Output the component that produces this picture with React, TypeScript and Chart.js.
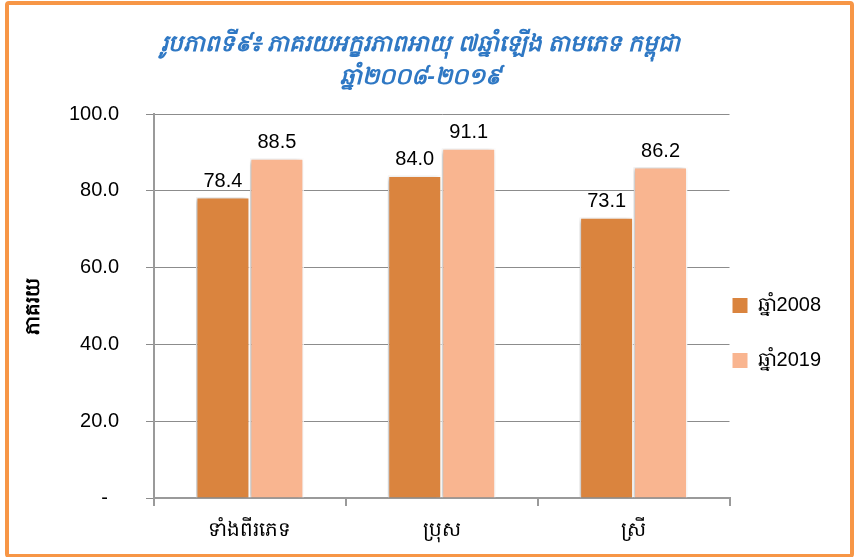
import React, { useEffect, useRef } from 'react';
import { Chart, registerables } from 'chart.js';

Chart.register(...registerables);

const categories = ['ទាំងពីរភេទ', 'ប្រុស', 'ស្រី'];
const seriesNames = ['ឆ្នាំ2008', 'ឆ្នាំ2019'];
const values2008 = [78.4, 84.0, 73.1];
const values2019 = [88.5, 91.1, 86.2];
const titleLines = ['រូបភាពទី៩៖ ភាគរយអក្ខរភាពអាយុ ៧ឆ្នាំឡើង តាមភេទ កម្ពុជា', 'ឆ្នាំ២០០៨-២០១៩'];
const yAxisTitle = 'ភាគរយ';
const yMin = 0;
const yMax = 100;
const yStep = 20;

const colors = ['#DA843E', '#F9B590'];
const FONT = '"Liberation Sans", Arial, "Noto Sans", sans-serif';

const barShadow = {
  id: 'barShadow',
  beforeDatasetsDraw(chart: any) {
    const c = chart.ctx;
    c.save();
    c.shadowColor = 'rgba(0,0,0,0.28)';
    c.shadowBlur = 5;
    c.shadowOffsetX = -2;
    c.shadowOffsetY = 1;
  },
  afterDatasetsDraw(chart: any) {
    chart.ctx.restore();
  },
};

const valueLabels = {
  id: 'valueLabels',
  afterDatasetsDraw(chart: any) {
    const ctx = chart.ctx;
    ctx.save();
    ctx.shadowColor = 'transparent';
    ctx.font = `20px ${FONT}`;
    ctx.fillStyle = '#000';
    ctx.textAlign = 'center';
    ctx.textBaseline = 'alphabetic';
    chart.data.datasets.forEach((ds: any, i: number) => {
      const meta = chart.getDatasetMeta(i);
      meta.data.forEach((el: any, j: number) => {
        ctx.fillText(Number(ds.data[j]).toFixed(1), el.x, el.y - 10);
      });
    });
    ctx.restore();
  },
};

export default function App() {
  const ref = useRef<HTMLCanvasElement>(null);

  useEffect(() => {
    const chart = new Chart(ref.current as HTMLCanvasElement, {
      type: 'bar',
      data: {
        labels: categories,
        datasets: [
          {
            label: seriesNames[0],
            data: values2008,
            backgroundColor: colors[0],
            borderColor: '#ffffff',
            borderWidth: 1.5,
            categoryPercentage: 0.5625,
            barPercentage: 1,
          },
          {
            label: seriesNames[1],
            data: values2019,
            backgroundColor: colors[1],
            borderColor: '#ffffff',
            borderWidth: 1.5,
            categoryPercentage: 0.5625,
            barPercentage: 1,
          },
        ],
      },
      plugins: [barShadow, valueLabels],
      options: {
        responsive: false,
        animation: false,
        devicePixelRatio: 1,
        layout: { padding: { top: 10, left: 10, right: 23, bottom: 3 } },
        plugins: {
          title: {
            display: true,
            text: titleLines,
            color: '#2F78C4',
            font: { family: FONT, size: 23, style: 'italic', lineHeight: 33 / 23 },
            padding: { top: 18.5, bottom: 19.5 },
          },
          legend: {
            position: 'right',
            fullSize: false,
            align: 'center',
            title: {
              display: true,
              text: '',
              padding: 0,
              font: { size: 10, lineHeight: 8.6 },
            },
            labels: {
              color: '#000',
              font: { family: FONT, size: 20, lineHeight: 52 / 20 },
              boxWidth: 15,
              boxHeight: 15,
              padding: 3,
              generateLabels: (ch: any) =>
                (Chart.defaults.plugins.legend.labels.generateLabels as any)(ch).map((l: any) => ({
                  ...l,
                  text: [l.text],
                  lineWidth: 0,
                })),
            },
          },
          tooltip: { enabled: false },
        },
        scales: {
          x: {
            grid: {
              display: true,
              drawOnChartArea: false,
              drawTicks: true,
              tickLength: 8,
              color: '#9a9a9a',
              lineWidth: 2,
              offset: true,
            },
            border: { display: true, color: '#9a9a9a', width: 2 },
            ticks: { color: '#000', font: { family: FONT, size: 20 }, padding: 12 },
          },
          y: {
            min: yMin,
            max: yMax,
            ticks: {
              stepSize: yStep,
              padding: 27,
              color: '#000',
              font: { family: FONT, size: 20 },
              callback: (v: any) => (Number(v) === 0 ? '-  ' : Number(v).toFixed(1)),
            },
            grid: { color: '#8c8c8c', lineWidth: 1, tickLength: 8 },
            border: { color: '#9a9a9a', width: 2 },
            title: {
              display: true,
              text: yAxisTitle,
              color: '#000',
              font: { family: FONT, size: 20, weight: 'bold' },
              padding: { top: 11, bottom: 0 },
            },
            afterFit: (s: any) => {
              s.width = 144;
            },
          },
        },
      } as any,
    });
    return () => chart.destroy();
  }, []);

  return (
    <div
      style={{
        position: 'fixed',
        left: 0,
        top: 0,
        width: 854,
        height: 557,
        background: '#fff',
        overflow: 'hidden',
      }}
    >
      <div
        style={{
          position: 'absolute',
          left: 5,
          top: 1,
          width: 849,
          height: 557,
          border: '4px solid #F79646',
          borderRadius: 4,
          boxSizing: 'border-box',
        }}
      />
      <canvas
        ref={ref}
        width={854}
        height={557}
        style={{ position: 'absolute', left: 0, top: 0, width: 854, height: 557 }}
      />
    </div>
  );
}
